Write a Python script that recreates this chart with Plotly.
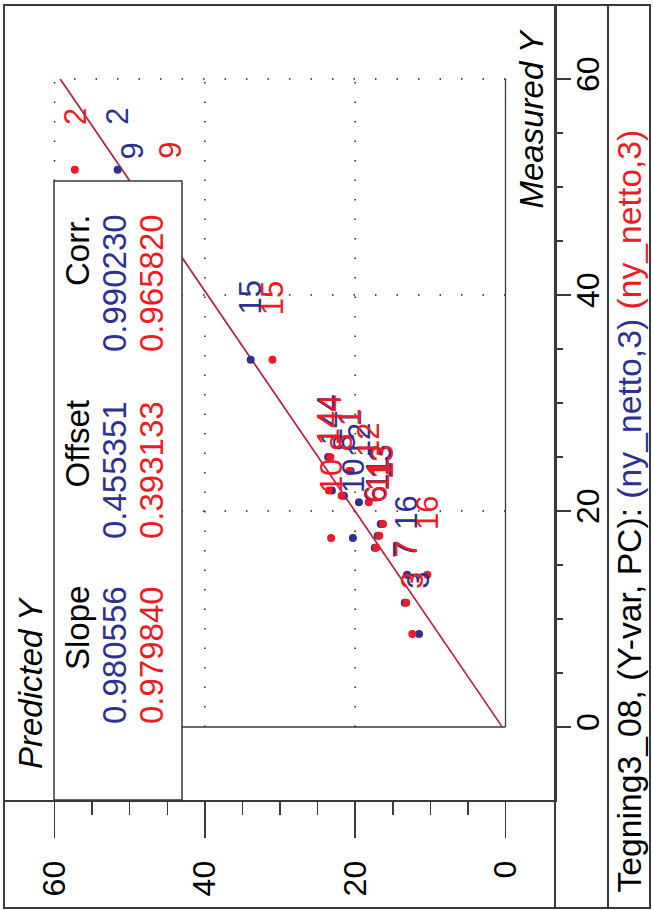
import plotly.graph_objects as go

W, H = 653, 910
FONT = "Liberation Sans, Arial, Helvetica, sans-serif"

# ---------------- data ----------------
samples = ["1", "2", "3", "4", "6", "7", "8", "9", "10", "11", "12", "13", "14", "15", "16"]
measured = [23.7, 51.6, 8.6, 25.0, 16.6, 11.5, 21.4, 48.4, 17.5, 17.7, 20.8, 18.8, 21.9, 34.0, 14.1]
pred_blue = [20.6, 51.6, 11.5, 23.6, 17.4, 13.4, 21.5, 49.6, 20.3, 17.0, 19.5, 16.6, 23.1, 33.9, 13.1]
pred_red = [20.8, 57.3, 12.4, 23.3, 17.2, 13.2, 21.8, 44.5, 23.2, 16.8, 18.2, 16.3, 23.5, 31.0, 10.4]

series_names = ["(ny_netto,3)", "(ny_netto,3)"]
slopes = [0.980556, 0.979840]
offsets = [0.455351, 0.393133]
corrs = [0.990230, 0.965820]
colors = ["#2e3192", "#ed1c24"]

tick_vals = [0, 20, 40, 60]
minor_vals = [5, 10, 15, 25, 30, 35, 45, 50, 55]
line_range = [0, 60]

FRAME = "#3a3a3a"


def px(x):
    return x / W


def py(y):
    return 1 - y / H


fig = go.Figure()

# regression lines (Predicted = slope * Measured + offset), drawn rotated
for s, o, c in zip(slopes, offsets, colors):
    fig.add_trace(go.Scatter(
        x=[s * m + o for m in line_range], y=line_range, mode="lines",
        line=dict(color=c, width=1.2), hoverinfo="skip", showlegend=False))

for preds, c in zip([pred_blue, pred_red], colors):
    fig.add_trace(go.Scatter(
        x=preds, y=measured, mode="markers",
        marker=dict(color=c, size=8, line=dict(width=0)),
        showlegend=False))

shapes = []
# dotted grid
for g in tick_vals[1:]:
    shapes.append(dict(type="line", xref="x", yref="y", x0=g, x1=g, y0=0, y1=60,
                       line=dict(color="#222", width=1.5, dash="1.5px,18px"), layer="below"))
    shapes.append(dict(type="line", xref="x", yref="y", x0=0, x1=60, y0=g, y1=g,
                       line=dict(color="#222", width=1.5, dash="1.5px,20px"), layer="below"))
# inner zero lines
shapes.append(dict(type="line", xref="x", yref="y", x0=0, x1=0, y0=0, y1=60,
                   line=dict(color=FRAME, width=1.3), layer="below"))
shapes.append(dict(type="line", xref="x", yref="y", x0=0, x1=60, y0=0, y1=0,
                   line=dict(color=FRAME, width=1.3), layer="below"))
# outer frame and separators
shapes.append(dict(type="rect", xref="paper", yref="paper", x0=px(4), x1=px(650), y0=py(908), y1=py(5),
                   line=dict(color=FRAME, width=2), layer="above"))
shapes.append(dict(type="line", xref="paper", yref="paper", x0=px(608), x1=px(608), y0=py(908), y1=py(5),
                   line=dict(color=FRAME, width=2), layer="above"))
shapes.append(dict(type="line", xref="paper", yref="paper", x0=px(555), x1=px(555), y0=py(908), y1=py(5),
                   line=dict(color=FRAME, width=2), layer="above"))
# statistics box
shapes.append(dict(type="rect", xref="paper", yref="paper", x0=px(54), x1=px(182), y0=py(800), y1=py(181),
                   line=dict(color=FRAME, width=1.5), fillcolor="white", layer="above"))

annotations = []
# point labels
for preds, c in zip([pred_blue, pred_red], colors):
    for s, p, m in zip(samples, preds, measured):
        annotations.append(dict(x=p, y=m, xref="x", yref="y", text=s, textangle=-90,
                                xanchor="center", yanchor="bottom", yshift=44, showarrow=False,
                                borderpad=0, font=dict(size=31, color=c, family=FONT)))

# statistics table
stat_cols = [("Slope", slopes, 585), ("Offset", offsets, 400), ("Corr.", corrs, 213)]
for head, vals, ytop in stat_cols:
    annotations.append(dict(x=px(77), y=py(ytop), xref="paper", yref="paper", text=head, textangle=-90,
                            xanchor="center", yanchor="top", showarrow=False, borderpad=0,
                            font=dict(size=33, color="black", family=FONT)))
    for v, c, xc in zip(vals, colors, [114, 151]):
        annotations.append(dict(x=px(xc), y=py(ytop), xref="paper", yref="paper", text=f"{v:.6f}",
                                textangle=-90, xanchor="center", yanchor="top", showarrow=False,
                                borderpad=0, font=dict(size=33, color=c, family=FONT)))

# axis titles
annotations.append(dict(x=px(30), y=py(770), xref="paper", yref="paper", text="<i>Predicted Y</i>",
                        textangle=-90, xanchor="center", yanchor="bottom", showarrow=False, borderpad=0,
                        font=dict(size=33, color="black", family=FONT)))
annotations.append(dict(x=px(531), y=py(210), xref="paper", yref="paper", text="<i>Measured Y</i>",
                        textangle=-90, xanchor="center", yanchor="bottom", showarrow=False, borderpad=0,
                        font=dict(size=33, color="black", family=FONT)))

# title
title_text = ("Tegning3_08, (Y-var, PC): "
              f"<span style='color:{colors[0]}'>{series_names[0]}</span> "
              f"<span style='color:{colors[1]}'>{series_names[1]}</span>")
annotations.append(dict(x=px(628), y=py(894), xref="paper", yref="paper", text=title_text,
                        textangle=-90, xanchor="center", yanchor="bottom", showarrow=False, borderpad=0,
                        font=dict(size=33.7, color="black", family=FONT)))

tick_text = [str(v) for v in tick_vals]

fig.update_layout(
    width=W, height=H, autosize=False,
    margin=dict(l=0, r=0, t=0, b=0, pad=0),
    paper_bgcolor="white", plot_bgcolor="white",
    showlegend=False,
    shapes=shapes, annotations=annotations,
    font=dict(family=FONT),
    xaxis=dict(domain=[px(4), px(555)], range=[66.72, -6.585], anchor="y", side="bottom",
               showgrid=False, zeroline=False, showline=True, linecolor=FRAME, linewidth=2,
               ticks="outside", ticklen=36, tickwidth=1.5, tickcolor=FRAME,
               tickmode="array", tickvals=tick_vals, ticktext=tick_text, tickangle=-90,
               tickfont=dict(size=32, color="black", family=FONT), ticklabelstandoff=10,
               minor=dict(tickmode="array", tickvals=minor_vals, ticks="outside", ticklen=13,
                          tickwidth=1.5, tickcolor=FRAME, showgrid=False)),
    yaxis=dict(domain=[1 - 800 / H, 1 - 5 / H], range=[-6.759, 66.85], anchor="x", side="right",
               showgrid=False, zeroline=False, showline=True, linecolor=FRAME, linewidth=2,
               ticks="outside", ticklen=14, tickwidth=1.5, tickcolor=FRAME,
               tickmode="array", tickvals=tick_vals, ticktext=tick_text, tickangle=-90,
               tickfont=dict(size=32, color="black", family=FONT), ticklabelstandoff=-10,
               minor=dict(tickmode="array", tickvals=minor_vals, ticks="outside", ticklen=6,
                          tickwidth=1.5, tickcolor=FRAME, showgrid=False)),
)

fig.write_html("out.html", config={"displayModeBar": False, "staticPlot": True},
               post_script="document.body.style.margin='0';document.body.style.overflow='hidden';")
